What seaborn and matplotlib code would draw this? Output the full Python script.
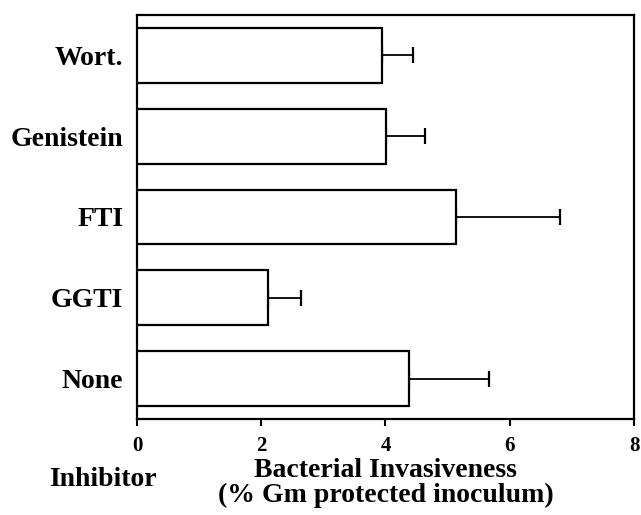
import pandas as pd
import seaborn as sns
import matplotlib.pyplot as plt

# values (top to bottom)
inhibitors = ["Wort.", "Genistein", "FTI", "GGTI", "None"]
invasiveness = [3.95, 4.01, 5.13, 2.11, 4.38]
sem = [0.49, 0.62, 1.68, 0.53, 1.28]

df = pd.DataFrame({"Inhibitor": inhibitors, "Invasiveness": invasiveness})

sns.set_theme(style="ticks")
plt.rcParams['font.family'] = ['Liberation Serif', 'DejaVu Serif']
plt.rcParams['font.weight'] = 'bold'
plt.rcParams['text.color'] = 'black'
plt.rcParams['axes.labelcolor'] = 'black'
plt.rcParams['xtick.color'] = 'black'
plt.rcParams['ytick.color'] = 'black'

fig = plt.figure(figsize=(6.41, 5.15), dpi=100)
ax = fig.add_axes([0.2137, 0.1864, 0.7754, 0.7845])

sns.barplot(data=df, x="Invasiveness", y="Inhibitor", orient="h",
            color="white", edgecolor="black", linewidth=1.6,
            width=0.68, errorbar=None, ax=ax, zorder=3)

# one-sided error bars
ax.errorbar(df["Invasiveness"], range(len(df)), xerr=[[0] * len(df), sem],
            fmt="none", ecolor="black", elinewidth=1.3, capsize=6,
            capthick=1.6, zorder=2)

ax.set_xlim(0, 8)
ax.set_ylim(4.5, -0.5)
ax.set_xticks([0, 2, 4, 6, 8])
ax.tick_params(axis="x", direction="out", length=5, width=1.5,
               labelsize=15, pad=7)
ax.tick_params(axis="y", length=0, labelsize=20, pad=10)
for lbl in ax.get_xticklabels() + ax.get_yticklabels():
    lbl.set_fontweight("bold")

for s in ax.spines.values():
    s.set_visible(True)
    s.set_linewidth(1.6)
    s.set_color("black")

ax.set_ylabel("")
ax.set_xlabel("Bacterial Invasiveness\n(% Gm protected inoculum)",
              fontsize=20, fontweight="bold", labelpad=2, linespacing=0.95)
fig.text(0.16, 0.068, "Inhibitor", fontsize=20, fontweight="bold",
         ha="center", va="center")

fig.savefig("out.png", dpi=100)
